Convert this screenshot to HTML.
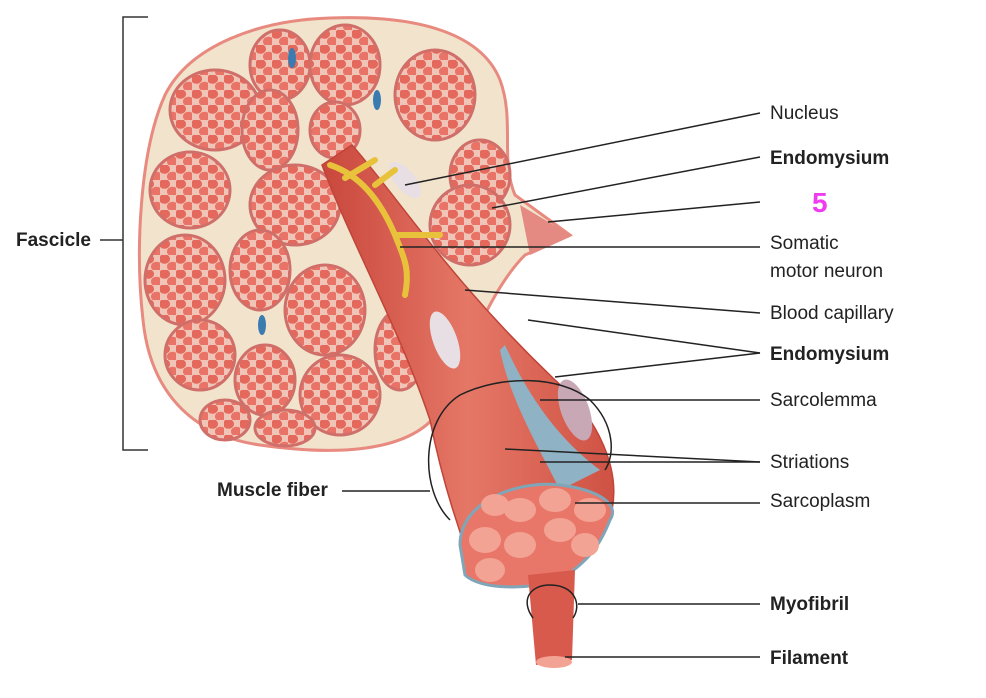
<!DOCTYPE html>
<html><head><style>
body{margin:0;background:#fff;width:986px;height:698px;overflow:hidden}
svg{display:block}
text{font-family:"Liberation Sans",sans-serif;font-size:19px;fill:#222}
.b{font-weight:bold}
</style></head><body>
<svg width="986" height="698" viewBox="0 0 986 698">
<defs>
<pattern id="dots" width="16" height="15" patternUnits="userSpaceOnUse">
<rect width="16" height="15" fill="#f0c4b6"/>
<ellipse cx="4.5" cy="4" rx="5.5" ry="4.8" fill="#e4685c"/>
<ellipse cx="12.5" cy="11.5" rx="5.5" ry="4.8" fill="#e87366"/>
</pattern>
<linearGradient id="mus" x1="0" y1="0" x2="1" y2="0">
<stop offset="0" stop-color="#c9473c"/><stop offset=".5" stop-color="#e57766"/><stop offset="1" stop-color="#cf5244"/>
</linearGradient>
</defs>
<!-- bracket -->
<path d="M148 17H123V450H148" fill="none" stroke="#333" stroke-width="1.5"/>
<line x1="100" y1="240" x2="123" y2="240" stroke="#333" stroke-width="1.5"/>
<text x="16" y="246" class="b">Fascicle</text>
<!-- cross section -->
<path d="M165 95 C190 45 260 20 330 18 C410 15 480 30 500 80 C515 120 500 160 515 195 L570 235 L525 255 C490 290 470 350 440 410 C410 455 330 455 260 445 C190 435 150 390 143 320 C135 250 140 150 165 95Z" fill="#f1e3cc" stroke="#e88a7f" stroke-width="3"/>
<g fill="url(#dots)" stroke="#d06f69" stroke-width="3">
<ellipse cx="215" cy="110" rx="45" ry="40"/>
<ellipse cx="280" cy="65" rx="30" ry="35"/>
<ellipse cx="345" cy="65" rx="35" ry="40"/>
<ellipse cx="435" cy="95" rx="40" ry="45"/>
<ellipse cx="270" cy="130" rx="28" ry="40"/>
<ellipse cx="335" cy="130" rx="25" ry="28"/>
<ellipse cx="190" cy="190" rx="40" ry="38"/>
<ellipse cx="295" cy="205" rx="45" ry="40"/>
<ellipse cx="480" cy="175" rx="30" ry="35"/>
<ellipse cx="470" cy="225" rx="40" ry="40"/>
<ellipse cx="185" cy="280" rx="40" ry="45"/>
<ellipse cx="260" cy="270" rx="30" ry="40"/>
<ellipse cx="325" cy="310" rx="40" ry="45"/>
<ellipse cx="200" cy="355" rx="35" ry="35"/>
<ellipse cx="265" cy="380" rx="30" ry="35"/>
<ellipse cx="340" cy="395" rx="40" ry="40"/>
<ellipse cx="225" cy="420" rx="25" ry="20"/>
<ellipse cx="400" cy="350" rx="25" ry="40"/>
<ellipse cx="285" cy="428" rx="30" ry="18"/>
</g>
<ellipse cx="292" cy="58" rx="4" ry="10" fill="#3a7bb0"/>
<ellipse cx="377" cy="100" rx="4" ry="10" fill="#3a7bb0"/>
<ellipse cx="262" cy="325" rx="4" ry="10" fill="#3a7bb0"/>
<!-- fiber bundle -->
<path d="M322 165 L352 145 C400 200 450 280 555 380 C600 420 620 470 612 510 L470 560 C455 520 440 470 430 420 C400 330 350 240 322 165Z" fill="url(#mus)" stroke="#c04438" stroke-width="1.5"/>
<path d="M505 345 C530 400 560 440 600 470 L560 490 C540 450 510 400 500 350Z" fill="#8fb3c4"/>
<ellipse cx="445" cy="340" rx="12" ry="30" transform="rotate(-20 445 340)" fill="#e8dfe4"/>
<ellipse cx="405" cy="180" rx="10" ry="22" transform="rotate(-40 405 180)" fill="#e8dfe4"/>
<ellipse cx="575" cy="410" rx="14" ry="32" transform="rotate(-20 575 410)" fill="#c9a8b6"/>
<path d="M520 205 L572 236 L530 255 Z" fill="#e48a82"/>
<path d="M330 165 C360 175 380 200 395 235 C405 260 410 270 405 295 M345 178 L375 160 M395 235 L440 235 M375 185 L395 170" fill="none" stroke="#e8c23a" stroke-width="6" stroke-linecap="round"/>
<path d="M460 545 C460 500 520 480 560 485 C600 490 620 505 610 520 C600 545 590 560 560 580 C530 590 480 590 465 575Z" fill="#e8776a" stroke="#7fa6b8" stroke-width="3"/>
<g fill="#f3a393">
<ellipse cx="485" cy="540" rx="16" ry="13"/><ellipse cx="520" cy="510" rx="16" ry="12"/><ellipse cx="555" cy="500" rx="16" ry="12"/>
<ellipse cx="590" cy="510" rx="16" ry="12"/><ellipse cx="560" cy="530" rx="16" ry="12"/><ellipse cx="520" cy="545" rx="16" ry="13"/>
<ellipse cx="490" cy="570" rx="15" ry="12"/><ellipse cx="585" cy="545" rx="14" ry="12"/><ellipse cx="495" cy="505" rx="14" ry="11"/>
</g>
<path d="M528 575 L575 570 L572 660 L536 665Z" fill="#d85a4c"/>
<ellipse cx="554" cy="662" rx="18" ry="6" fill="#f3a393"/>
<path d="M450 520 C420 490 420 420 460 395 C500 375 560 375 590 400 C615 425 615 455 605 470" fill="none" stroke="#222" stroke-width="1.5"/>
<path d="M533 618 C520 600 530 585 550 585 C575 585 582 605 573 618" fill="none" stroke="#222" stroke-width="1.5"/>
<g stroke="#222" stroke-width="1.5" fill="none">
<line x1="760" y1="113" x2="405" y2="185"/>
<line x1="760" y1="157" x2="492" y2="208"/>
<line x1="760" y1="202" x2="548" y2="222"/>
<line x1="760" y1="247" x2="400" y2="247"/>
<line x1="760" y1="313" x2="465" y2="290"/>
<line x1="760" y1="353" x2="528" y2="320"/>
<line x1="760" y1="353" x2="555" y2="377"/>
<line x1="760" y1="400" x2="540" y2="400"/>
<line x1="760" y1="462" x2="505" y2="449"/>
<line x1="760" y1="462" x2="540" y2="462"/>
<line x1="760" y1="503" x2="575" y2="503"/>
<line x1="760" y1="604" x2="578" y2="604"/>
<line x1="760" y1="657" x2="565" y2="657"/>
<line x1="342" y1="491" x2="430" y2="491"/>
</g>
<text x="770" y="119">Nucleus</text>
<text x="770" y="164" class="b">Endomysium</text>
<text x="812" y="212" style="font-size:28px;font-weight:bold;fill:#f03cf0">5</text>
<text x="770" y="249">Somatic</text>
<text x="770" y="277">motor neuron</text>
<text x="770" y="319">Blood capillary</text>
<text x="770" y="360" class="b">Endomysium</text>
<text x="770" y="406">Sarcolemma</text>
<text x="770" y="468">Striations</text>
<text x="770" y="507">Sarcoplasm</text>
<text x="770" y="610" class="b">Myofibril</text>
<text x="770" y="664" class="b">Filament</text>
<text x="217" y="496" class="b">Muscle fiber</text>
</svg>
</body></html>
